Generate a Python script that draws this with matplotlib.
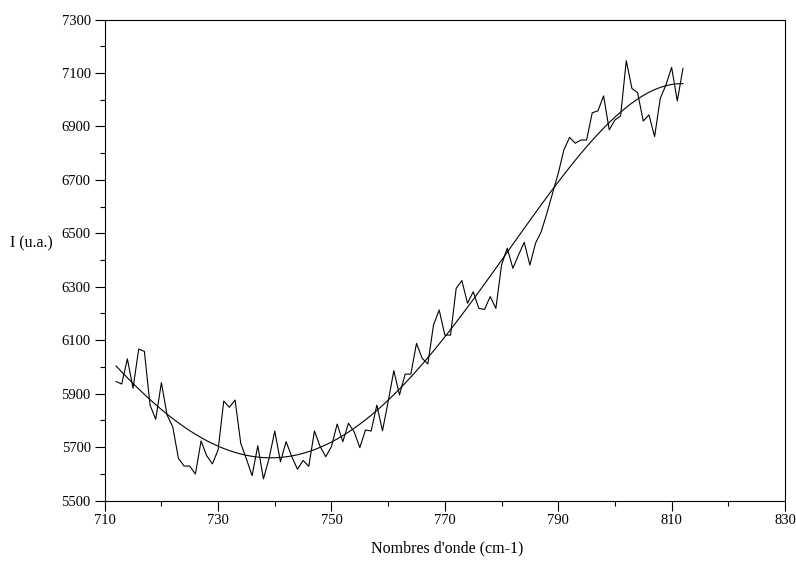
import numpy as np
import matplotlib
matplotlib.use("Agg")
import matplotlib.pyplot as plt
from matplotlib.ticker import MultipleLocator

# wavenumbers (cm-1) and measured intensity (u.a.)
wavenumber = np.arange(712, 813)
intensity = [
    5945, 5936, 6030, 5920, 6067, 6058, 5857, 5804, 5941, 5820,
    5776, 5658, 5629, 5629, 5599, 5723, 5667, 5637, 5689, 5872,
    5849, 5876, 5714, 5655, 5593, 5705, 5581, 5658, 5760, 5645,
    5720, 5664, 5617, 5650, 5628, 5760, 5702, 5664, 5702, 5786,
    5720, 5789, 5757, 5698, 5764, 5760, 5857, 5761, 5870, 5986,
    5895, 5973, 5973, 6088, 6032, 6011, 6157, 6213, 6119, 6119,
    6294, 6323, 6238, 6281, 6219, 6215, 6263, 6219, 6381, 6444,
    6369, 6419, 6466, 6381, 6463, 6506, 6575, 6650, 6724, 6812,
    6859, 6837, 6849, 6849, 6951, 6958, 7014, 6887, 6924, 6939,
    7146, 7042, 7026, 6920, 6943, 6862, 7005, 7055, 7121, 6995,
    7117,
]

xticks = [710, 730, 750, 770, 790, 810, 830]
yticks = [5500, 5700, 5900, 6100, 6300, 6500, 6700, 6900, 7100, 7300]

# polynomial (degree 4) fit of the spectrum
coef = np.polyfit(wavenumber, intensity, 4)
fit = np.polyval(coef, wavenumber)

plt.rcParams['font.family'] = ['Liberation Serif', 'DejaVu Serif']

fig = plt.figure(figsize=(7.96, 5.63), dpi=100)
ax = fig.add_axes([104.7 / 796, 62.5 / 563, (785 - 104.7) / 796, (500.5 - 19.5) / 563])

ax.plot(wavenumber, intensity, color='black', lw=0.8)
ax.plot(wavenumber, fit, color='black', lw=0.8)

ax.set_xlim(710, 830)
ax.set_ylim(5500, 7300)
ax.set_xticks(xticks)
ax.set_yticks(yticks)
ax.xaxis.set_minor_locator(MultipleLocator(10))
ax.yaxis.set_minor_locator(MultipleLocator(100))
ax.tick_params(which='major', direction='out', length=7, width=0.8, labelsize=10.5, pad=3)
ax.tick_params(which='minor', direction='out', length=3.5, width=0.8)
ax.tick_params(top=False, right=False, which='both')
for sp in ax.spines.values():
    sp.set_linewidth(0.8)

fig.text(10 / 796, 1 - 243 / 563, 'I (u.a.)', ha='left', va='center', fontsize=11.5)
fig.text(447 / 796, 1 - 548 / 563, "Nombres d'onde (cm-1)", ha='center', va='center', fontsize=11.5)

fig.savefig('out.png', dpi=100)
